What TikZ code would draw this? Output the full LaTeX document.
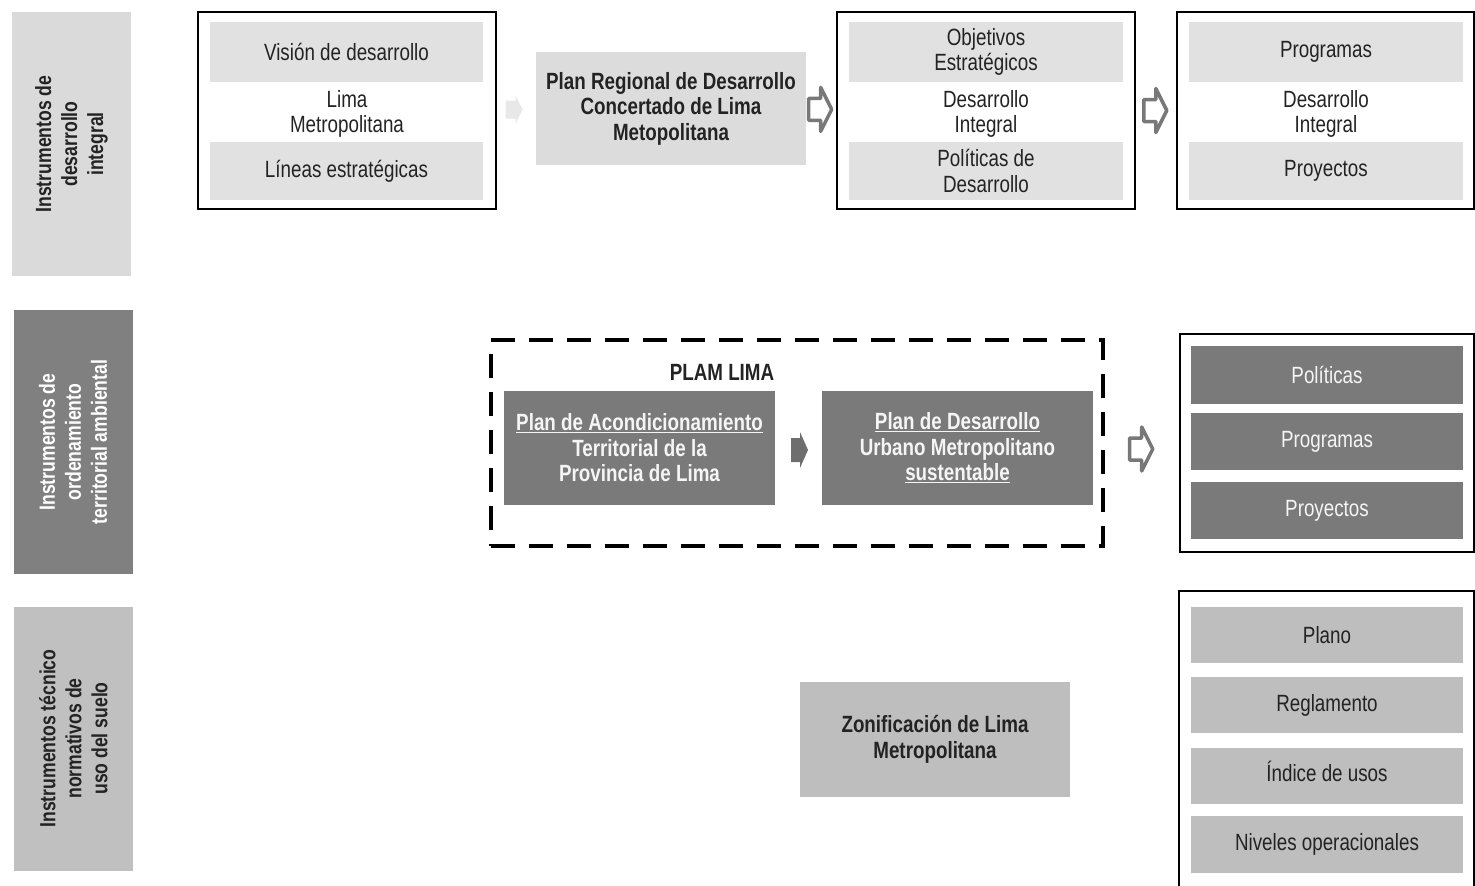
\documentclass[tikz,border=0pt]{standalone}
\usepackage{fontspec}
\setmainfont{Liberation Sans}[FakeStretch=0.8]
\usetikzlibrary{calc}

\definecolor{ink}{RGB}{35,35,35}
\definecolor{lightband}{RGB}{225,225,225}
\definecolor{lightbox}{RGB}{220,220,220}
\definecolor{labA}{RGB}{218,218,218}
\definecolor{darkband}{RGB}{122,122,122}
\definecolor{labB}{RGB}{128,128,128}
\definecolor{midband}{RGB}{190,190,190}
\definecolor{labC}{RGB}{192,192,192}
\definecolor{arrowgray}{RGB}{120,120,120}
\definecolor{palearrow}{RGB}{232,232,232}
\definecolor{softwhite}{RGB}{245,245,245}

\tikzset{
  txt/.style={font=\fontsize{23.5}{25.5}\selectfont, text=ink, align=center, inner sep=0pt},
  boldtxt/.style={font=\bfseries\fontsize{23.5}{25.5}\selectfont, text=ink, align=center, inner sep=0pt},
  frame/.style={draw=black, line width=1.8pt, inner sep=0pt},
  band/.style={txt, minimum width=273pt, minimum height=58pt},
  labelbox/.style={rotate=90, inner sep=0pt, minimum width=264pt, minimum height=119pt,
    align=center, font=\bfseries\fontsize{22}{26}\selectfont},
  hollowarrow/.pic={
    \draw[draw=arrowgray, line width=3.5pt, fill=white, line join=round]
      (-11,-11) -- (1,-11) -- (1,-22) -- (12,0) -- (1,22) -- (1,11) -- (-11,11) -- cycle;
  },
  solidarrow/.pic={
    \fill[darkband!90!black]
      (-8.5,-12) -- (0.5,-12) -- (0.5,-18) -- (8.5,0) -- (0.5,18) -- (0.5,12) -- (-8.5,12) -- cycle;
  },
  palearrow/.pic={
    \fill[palearrow]
      (-8,-9) -- (2,-9) -- (2,-14) -- (9,0) -- (2,14) -- (2,9) -- (-8,9) -- cycle;
  },
}

\begin{document}
\begin{tikzpicture}[x=1pt,y=-1pt]
\useasboundingbox (0,0) rectangle (1475,886);
\clip (0,0) rectangle (1475,886);

% ---- row labels (rotated) ----
\node[labelbox, fill=labA, text=ink] (labone) at (71.5,144) {Instrumentos de\\desarrollo\\integral};
\node[labelbox, fill=labB, text=white] (labtwo) at (73,442) {Instrumentos de\\ordenamiento\\territorial ambiental};
\node[labelbox, fill=labC, text=ink] (labthree) at (73.5,738.5) {Instrumentos técnico\\normativos de\\uso del suelo};

% ---- row 1: integral development ----
\node[frame, minimum width=298pt, minimum height=197pt] (boxA) at (347,110.5) {};
\node[band, fill=lightband, minimum height=60pt] (visA) at (346.5,52) {Visión de desarrollo};
\node[txt] (limA) at (347,114) {Lima\\Metropolitana};
\node[band, fill=lightband] (linA) at (346.5,171) {Líneas estratégicas};

\node[boldtxt, fill=lightbox, minimum width=270pt, minimum height=113pt] (prdc) at (671,108.5)
  {Plan Regional de Desarrollo\\Concertado de Lima\\Metopolitana};

\node[frame, minimum width=298pt, minimum height=197pt] (boxB) at (986,110.5) {};
\node[band, fill=lightband, minimum width=274pt, minimum height=60pt] (objB) at (986,52) {Objetivos\\Estratégicos};
\node[txt] (desB) at (986,114) {Desarrollo\\Integral};
\node[band, fill=lightband, minimum width=274pt] (polB) at (986,171) {Políticas de\\Desarrollo};

\node[frame, minimum width=297pt, minimum height=197pt] (boxC) at (1325.5,110.5) {};
\node[band, fill=lightband, minimum width=274pt, minimum height=60pt] (proC) at (1326,52) {Programas};
\node[txt] (desC) at (1326,114) {Desarrollo\\Integral};
\node[band, fill=lightband, minimum width=274pt] (pyC) at (1326,171) {Proyectos};

\pic at ($(boxA.east)!0.43!(prdc.west)$) {palearrow};
\pic at ($(prdc.east)!0.45!(boxB.west)$) {hollowarrow};
\pic at ($(boxB.east)!0.47!(boxC.west)$) {hollowarrow};

% ---- row 2: territorial planning ----
\node[draw=black, line width=4.5pt, dash pattern=on 24pt off 14pt, inner sep=0pt,
      minimum width=612pt, minimum height=206pt] (plam) at (797,443) {};
\node[boldtxt] (plamtitle) at (722,372) {PLAM LIMA};
\node[boldtxt, text=softwhite, fill=darkband, minimum width=271pt, minimum height=114pt] (pat) at (639.5,448)
  {\underline{Plan de Acondicionamiento}\\Territorial de la\\Provincia de Lima};
\node[boldtxt, text=softwhite, fill=darkband, minimum width=271pt, minimum height=114pt] (pdu) at (957.5,448)
  {\underline{Plan de Desarrollo}\\Urbano Metropolitano\\\underline{sustentable}};
\pic at ($(pat.east)!0.5!(pdu.west)+(1,2)$) {solidarrow};

\node[frame, minimum width=294pt, minimum height=218pt] (boxD) at (1327,443) {};
\node[band, fill=darkband, text=softwhite, minimum width=272pt] (polD) at (1327,375) {Políticas};
\node[band, fill=darkband, text=softwhite, minimum width=272pt, minimum height=57pt] (proD) at (1327,441.5) {Programas};
\node[band, fill=darkband, text=softwhite, minimum width=272pt, minimum height=57pt] (pyD) at (1327,510.5) {Proyectos};

\pic at ($(plam.east)!0.48!(boxD.west)+(0,6)$) {hollowarrow};

% ---- row 3: land use regulation ----
\node[boldtxt, fill=midband, minimum width=270pt, minimum height=115pt] (zon) at (935,739.5)
  {Zonificación de Lima\\Metropolitana};

\node[frame, minimum width=295pt, minimum height=300pt] (boxE) at (1326.5,741) {};
\node[band, fill=midband, minimum width=272pt, minimum height=56pt] (plaE) at (1327,635) {Plano};
\node[band, fill=midband, minimum width=272pt, minimum height=56pt] (regE) at (1327,705) {Reglamento};
\node[band, fill=midband, minimum width=272pt, minimum height=56pt, text height=2.2ex, text depth=0.25ex] (indE) at (1327,776) {Índice de usos};
\node[band, fill=midband, minimum width=272pt, minimum height=57pt] (nivE) at (1327,844.5) {Niveles operacionales};
\end{tikzpicture}
\end{document}
